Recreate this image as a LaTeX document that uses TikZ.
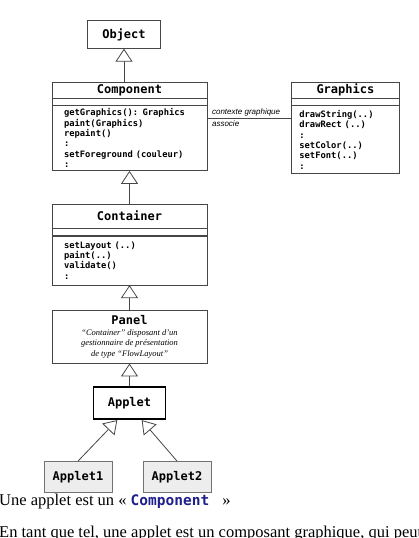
\documentclass[tikz,border=0pt]{standalone}
\usepackage{fontspec}
\setmainfont{Liberation Serif}
\setmonofont{DejaVu Sans Mono}
\newfontfamily\labelfont{Liberation Sans}
\usepackage{xcolor}
\usetikzlibrary{positioning,arrows.meta}
\definecolor{codeblue}{RGB}{30,30,140}
\definecolor{boxgray}{RGB}{70,70,70}
\newcommand{\titlefont}{\upshape\ttfamily\bfseries\fontsize{12}{14}\selectfont}
\newcommand{\opsfont}{\ttfamily\bfseries\fontsize{8.8}{10.4}\selectfont}
\newcommand{\descfont}{\itshape\fontsize{8.5}{10.5}\selectfont}
\tikzset{
	objbox/.style = {draw=boxgray, fill=white, rectangle, inner sep=0pt, minimum width=73pt, minimum height=28pt, font=\titlefont},
	classname/.style = {draw=boxgray, fill=white, rectangle, inner sep=0pt, minimum width=155pt, minimum height=16pt, font=\titlefont},
	classgap/.style = {draw=boxgray, fill=white, rectangle, inner sep=0pt, minimum width=155pt, minimum height=7pt},
	classops/.style = {draw=boxgray, fill=white, rectangle, inner xsep=12pt, inner ysep=0pt, text width=131pt, align=left, font=\opsfont},
	panelbox/.style = {draw=boxgray, fill=white, rectangle, inner sep=0pt, minimum width=155pt, minimum height=53pt, align=center, font=\descfont},
	appletbox/.style = {draw=black, fill=white, line width=1.6pt, rectangle, inner sep=0pt, minimum width=72pt, minimum height=32pt, font=\titlefont},
	subbox/.style = {draw=black!55, fill=black!7, rectangle, inner sep=0pt, minimum width=68pt, minimum height=31pt, font=\titlefont},
	inherit/.style = {draw=boxgray, line width=0.8pt, -{Triangle[width=17pt, length=13pt, fill=white]}},
	assocline/.style = {draw=boxgray, line width=0.8pt},
	assoclabel/.style = {font=\labelfont\itshape\fontsize{8}{9}\selectfont, inner sep=1.5pt, xshift=3pt},
	note/.style = {font=\fontsize{16.5}{19}\selectfont, inner sep=0pt}
}

\begin{document}
\begin{tikzpicture}[x=1pt,y=1pt]
	\useasboundingbox (0,0) rectangle (418,538);
	\clip (0,0) rectangle (418,538);
	\node [objbox] (object) at (124,503.5) {Object};

	\node [classname, below=33pt of object, xshift=5.5pt] (comp) {Component};
	\node [classgap, below=0pt of comp] (compgap) {};
	\node [classops, below=0pt of compgap, minimum height=65pt] (compops) {getGraphics(): Graphics\\
		paint(Graphics)\\
		repaint()\\
		:\\
		setForeground (couleur)\\
		:};

	\node [classname, minimum width=108pt, right=84pt of comp] (graph) {Graphics};
	\node [classgap, minimum width=108pt, below=0pt of graph] (graphgap) {};
	\node [classops, inner xsep=8pt, text width=92pt, below=0pt of graphgap, minimum height=68pt] (graphops) {drawString(..)\\
		drawRect (..)\\
		:\\
		setColor(..)\\
		setFont(..)\\
		:};

	\node [classname, minimum height=24pt, below=33pt of compops] (cont) {Container};
	\node [classgap, below=0pt of cont] (contgap) {};
	\node [classops, below=0pt of contgap, minimum height=49pt] (contops) {setLayout (..)\\
		paint(..)\\
		validate()\\
		:};

	\node [panelbox, below=25pt of contops] (panel) {{\titlefont Panel}\\
		“Container” disposant d'un\\
		gestionnaire de présentation\\
		de type “FlowLayout”};

	\node [appletbox, below=23pt of panel] (applet) {Applet};
	\node [subbox, below=41pt of applet, xshift=-51.5pt] (appletone) {Applet1};
	\node [subbox, below=41pt of applet, xshift=47.5pt] (applettwo) {Applet2};

	\draw [inherit] (comp.north -| object.south) -- (object.south);
	\draw [inherit] (cont.north) -- (compops.south);
	\draw [inherit] (panel.north) -- (contops.south);
	\draw [inherit] (applet.north) -- (panel.south);
	\draw [inherit] (appletone.north) -- (applet.234);
	\draw [inherit] (applettwo.north) -- (applet.306);

	\coordinate (assoc) at ([yshift=-13pt]compops.north east);
	\draw [assocline] (assoc) -- node[assoclabel, pos=0, anchor=south west] (ctx) {contexte graphique}
		node[assoclabel, pos=0, anchor=north west] (asso) {associe} (assoc -| graphops.west);

	\node [note, anchor=base west] (noteone) at (-1,32) {Une applet est un « {\ttfamily\bfseries\fontsize{14.5}{17}\selectfont\color{codeblue}Component}\hspace{0.8em}»};
	\node [note, anchor=base west] (notetwo) at (-1,1) {En tant que tel, une applet est un composant graphique, qui peut};
\end{tikzpicture}
\end{document}
